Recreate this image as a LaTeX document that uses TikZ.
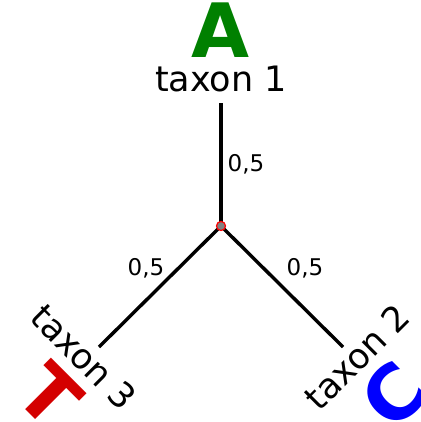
\documentclass[tikz,border=0pt]{standalone}
\usepackage{fontspec}
\setmainfont{DejaVu Sans}
\definecolor{vert}{RGB}{0,128,0}
\definecolor{rouge}{RGB}{212,0,0}
\definecolor{bleu}{RGB}{0,0,255}
\tikzset{dot/.style={circle, fill=gray, draw=red, line width=1.2pt, inner sep=3.2pt, outer sep=0pt}}
\tikzset{branche/.style={line width=3.4pt}}
\tikzset{taxon/.style={font=\fontsize{35}{40}\selectfont, inner sep=0pt}}
\tikzset{poids/.style={font=\fontsize{23}{26}\selectfont, inner sep=0pt}}
\tikzset{lettre/.style={font=\bfseries\fontsize{75}{80}\selectfont, inner sep=0pt}}

\begin{document}
\begin{tikzpicture}[x=1pt,y=-1pt]
            \useasboundingbox (0,0) rectangle (420,422);
            \clip (0,0) rectangle (420,422);
            % Les points
            \coordinate (R) at (221,226);
            \coordinate (F1) at (221,103);
            \coordinate (F2) at (343,347);
            \coordinate (F3) at (99,347);
            
            % Les branches
            \draw[branche] (R) -- (F1);
            \draw[branche] (R) -- (F2);
            \draw[branche] (R) -- (F3);
            \node[dot] (racine) at (R) {};
            
            % Les longueurs
            \node[poids] (p1) at (246,164) {0,5};
            \node[poids] (p2) at (305,268) {0,5};
            \node[poids] (p3) at (146,268) {0,5};
            
            % Les taxons
            \node[taxon, anchor=base] (t1) at (221,92) {taxon 1};
            \node[taxon, rotate=45] (t2) at (357,357) {taxon 2};
            \node[taxon, rotate=-45] (t3) at (84,357) {taxon 3};
            
            % Les lettres
            \node[lettre, text=vert, anchor=base] (A) at (221,58) {A};
            \node[lettre, text=bleu, rotate=45] (C) at (394,395) {C};
            \node[lettre, text=rouge, rotate=-45] (T) at (50,395) {T};
        \end{tikzpicture}
\end{document}
